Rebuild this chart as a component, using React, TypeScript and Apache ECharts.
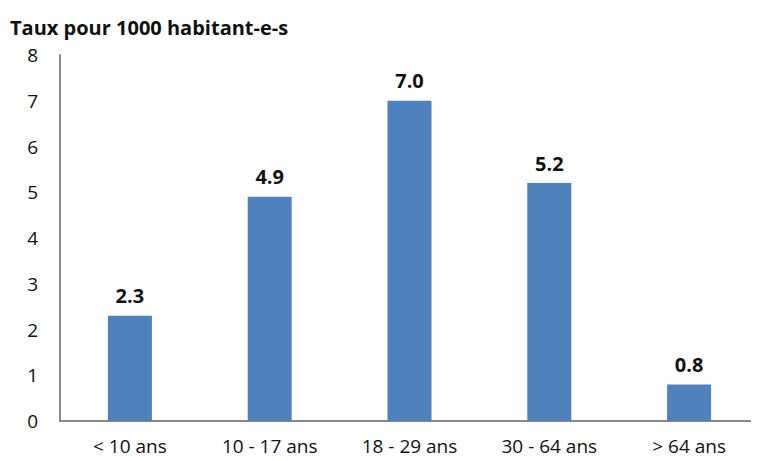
import React, { useEffect, useRef } from "react";
import * as echarts from "echarts";

const categories = ["< 10 ans", "10 - 17 ans", "18 - 29 ans", "30 - 64 ans", "> 64 ans"];
const values = [2.3, 4.9, 7.0, 5.2, 0.8];
const yTicks = { min: 0, max: 8, interval: 1 };
const title = "Taux pour 1000 habitant-e-s";

export default function App() {
  const ref = useRef<HTMLDivElement>(null);
  useEffect(() => {
    if (!ref.current) return;
    const chart = echarts.init(ref.current, null, { renderer: "svg" });
    const font = "'Open Sans', 'Liberation Sans', sans-serif";
    chart.setOption({
      animation: false,
      title: {
        text: title,
        left: -3,
        top: 4,
        textStyle: { fontFamily: font, fontSize: 20, fontWeight: "bold", color: "#111" },
      },
      grid: { left: 52, right: 0, top: 47, bottom: 40 },
      xAxis: {
        type: "category",
        data: categories,
        axisLine: { lineStyle: { color: "#888", width: 2 } },
        axisTick: { show: false },
        axisLabel: { fontFamily: font, fontSize: 19, color: "#111", margin: 15 },
      },
      yAxis: {
        type: "value",
        min: yTicks.min,
        max: yTicks.max,
        interval: yTicks.interval,
        axisLine: { show: true, lineStyle: { color: "#888", width: 2 } },
        axisTick: { show: false },
        splitLine: { show: false },
        axisLabel: { fontFamily: font, fontSize: 19, color: "#111", margin: 22 },
      },
      series: [
        {
          type: "bar",
          data: values,
          barWidth: 44,
          itemStyle: { color: "#4f81bd" },
          label: {
            show: true,
            position: "top",
            distance: 10,
            formatter: (p: any) => Number(p.value).toFixed(1),
            fontFamily: font,
            fontSize: 20,
            fontWeight: "bold",
            color: "#111",
          },
        },
      ],
    });
    return () => chart.dispose();
  }, []);
  return <div ref={ref} style={{ width: 751, height: 453 }} />;
}
